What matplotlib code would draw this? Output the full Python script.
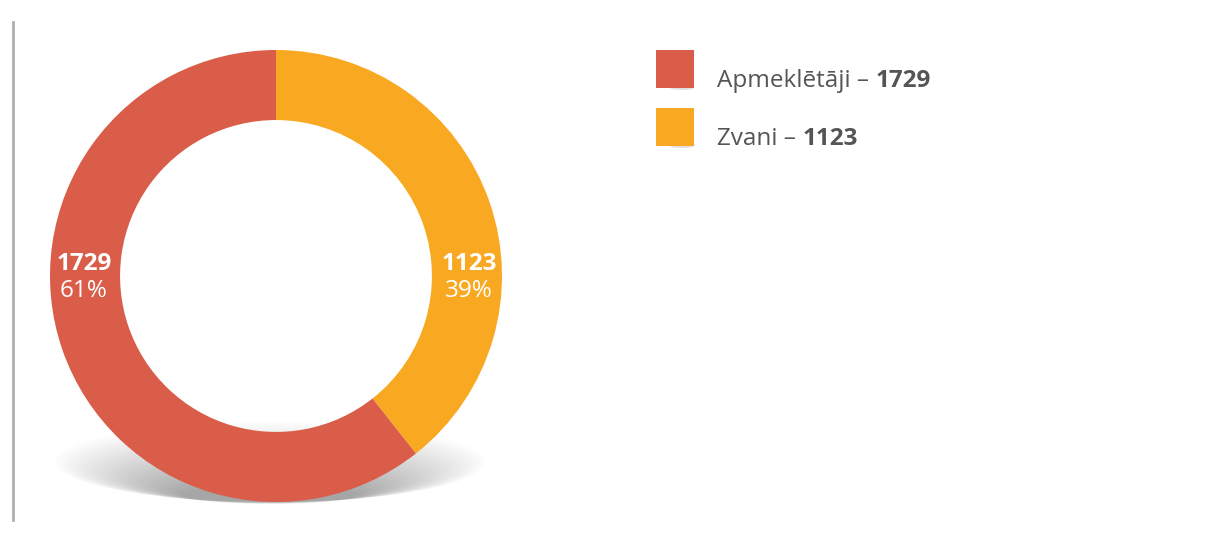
import matplotlib.pyplot as plt
from matplotlib.patches import Ellipse, Rectangle

plt.rcParams['font.family'] = ['Open Sans', 'DejaVu Sans']

labels = ['Apmeklētāji', 'Zvani']
values = [1729, 1123]
colors = ['#D95D48', '#F9A822']

W, H = 1225, 534
fig = plt.figure(figsize=(W / 100, H / 100), dpi=100)

# background axes in pixel coords (y down)
bg = fig.add_axes([0, 0, 1, 1])
bg.set_xlim(0, W)
bg.set_ylim(H, 0)
bg.axis('off')

# left grey rule
bg.plot([13, 13], [22, 520], color='#b0b0b0', lw=2)

# soft shadow under the donut
n = 30
for i in range(n):
    f = i / (n - 1)
    w = 430 - 260 * f
    h = 80 - 62 * f
    cy = 462 + 33 * f
    bg.add_patch(Ellipse((270, cy), w, h, color='#000000', alpha=0.012, lw=0))

# donut in its own axes
cx, cy, r = 276, 276, 226
pie_ax = fig.add_axes([(cx - r) / W, (H - cy - r) / H, 2 * r / W, 2 * r / H])
order = [1, 0]  # Zvani first, clockwise from top
wedges, _ = pie_ax.pie([values[i] for i in order], colors=[colors[i] for i in order],
                       startangle=90, counterclock=False, radius=1,
                       wedgeprops=dict(width=0.31, linewidth=0))
pie_ax.set_xlim(-1, 1)
pie_ax.set_ylim(-1, 1)
pie_ax.axis('off')

total = sum(values)
# value labels in the ring
pos = {0: -0.85, 1: 0.855}
for i, v in enumerate(values):
    pct = round(v / total * 100)
    pie_ax.text(pos[i], 0.055, str(v), ha='center', va='center', color='white',
                fontsize=17.5, fontweight='bold')
    pie_ax.text(pos[i], -0.065, f'{pct}%', ha='center', va='center', color='white',
                fontsize=17.5)

# legend
for i, (lab, v, c) in enumerate(zip(labels, values, colors)):
    y0 = 50 + 58 * i
    bg.add_patch(Ellipse((682, y0 + 38), 24, 4, color='#000000', alpha=0.12, lw=0))
    bg.add_patch(Rectangle((656, y0), 38, 38, color=c, lw=0))
    t = bg.text(717, y0 + 37, f'{lab} – ', ha='left', va='baseline', color='#555555',
                fontsize=17.5)
    bg.annotate(str(v), xy=(1, 0), xycoords=t, ha='left', va='bottom',
                color='#555555', fontsize=17.5, fontweight='bold')

fig.savefig('out.png', dpi=100)
